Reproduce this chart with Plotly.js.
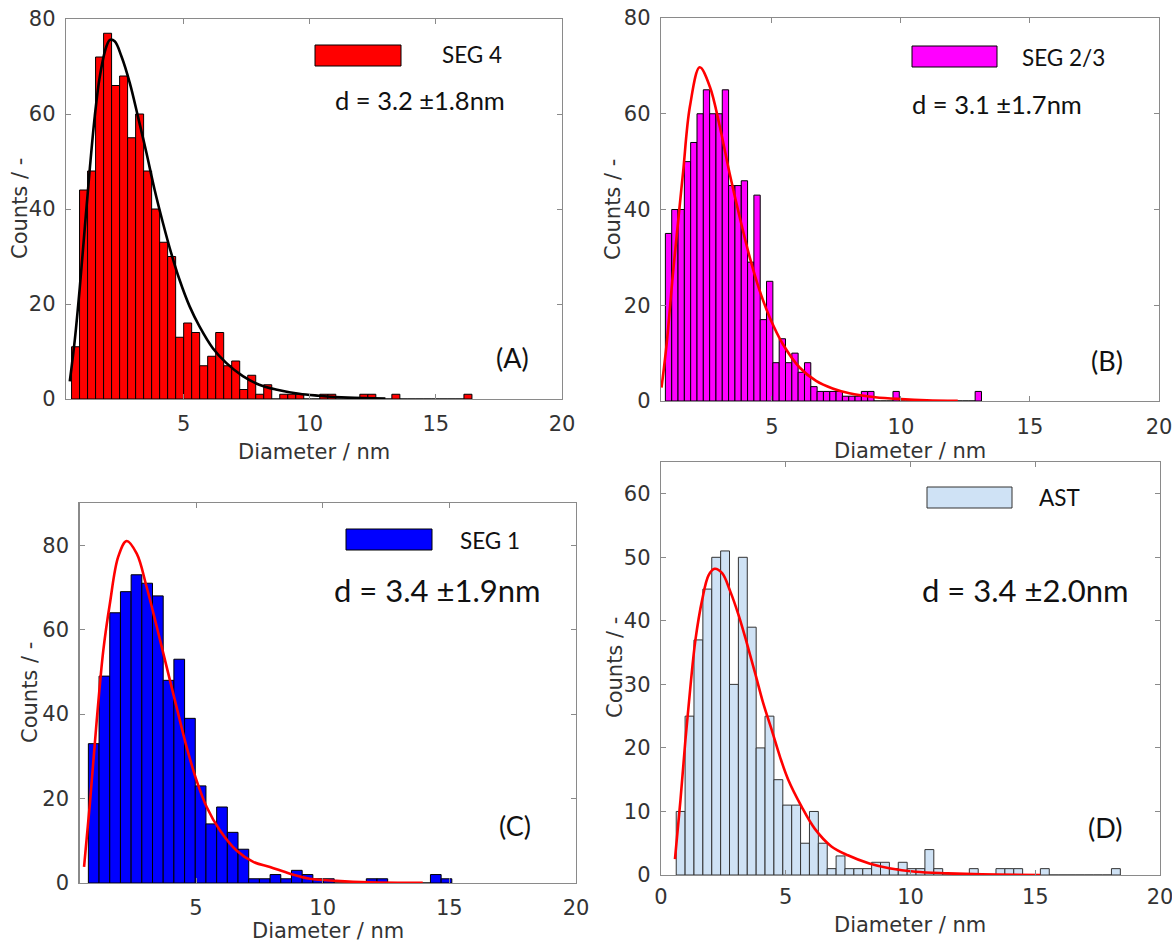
<!DOCTYPE html>
<html><head><meta charset="utf-8">
<script src="https://cdn.plot.ly/plotly-3.0.1.min.js"></script>
<style>html,body{margin:0;padding:0;background:#fff}</style>
</head><body><div id="chart" style="width:1172px;height:945px"></div>
<script>
// ---- Panel A (SEG 4) ----
const binStartA = 0.56, binWidthA = 0.3174;
const countsA = [11,44,48,72,77,66,68,55,60,48,40,33,30,13,16,14,7,9,14,7,8,2,5,1,3,0,1,1,1,0,0,1,1,0,0,0,1,1,0,0,1,0,0,0,0,0,0,0,0,1];
const fitA_x = [0.49,0.69,0.89,1.09,1.28,1.48,1.68,1.94,2.08,2.27,2.54,2.87,3.19,3.53,3.85,4.18,4.51,4.84,5.24,5.63,6.16,6.69,7.35,8.0,8.66,9.58,10.37,11.5,13.0];
const fitA_y = [3.7,12.5,23.7,36.4,48.3,59.5,67.9,74.2,75.6,75.3,72.1,66.5,59.5,51.8,44.1,37.1,30.7,25.1,19.5,15.3,10.7,7.6,4.8,3.0,2.0,1.1,0.7,0.3,0.1];

// ---- Panel B (SEG 2/3) ----
const binStartB = 0.87, binWidthB = 0.245;
const countsB = [35,40,40,50,54,60,65,60,60,65,45,45,46,29,43,17,25,8,13,8,10,6,8,3,2,2,2,2,1,1,1,2,2,0,0,0,2,0,0,0,0,0,0,0,0,0,0,0,0,2];
const fitB_x = [0.72,0.92,1.17,1.41,1.56,1.82,2.2,2.59,2.98,3.36,3.75,4.14,4.52,4.91,5.42,6.07,6.71,7.35,8.0,9.0,10.0,11.0,12.2];
const fitB_y = [2.8,12,27,40,48,61.5,69.7,65.7,57.3,47.5,38.4,30.0,23.1,17.5,11.9,7.0,4.2,2.6,1.6,0.8,0.4,0.15,0.05];

// ---- Panel C (SEG 1) ----
const binStartC = 0.75, binWidthC = 0.422;
const countsC = [33,49,64,69,73,71,68,48,53,39,23,14,18,12,8,1,1,2,1,3,2,1,1,0,0,0,1,1,0,0,0,0,2,1];
const fitC_x = [0.58,0.81,1.08,1.34,1.6,1.93,2.26,2.66,3.05,3.45,3.84,4.23,4.63,5.02,5.42,5.94,6.6,7.26,7.92,8.71,9.5,10.55,11.86,13.95];
const fitC_y = [3.8,18.8,38.5,55.1,66.2,77.3,81,78,70.1,60.7,51.2,41.7,32.2,24.3,18,12.5,7.7,5.0,3.8,2.2,1.0,0.5,0.15,0.02];

// ---- Panel D (AST) ----
const binStartD = 0.61, binWidthD = 0.356;
const countsD = [10,25,37,45,50,51,30,50,39,20,25,15,11,11,5,10,5,1,3,1,1,1,2,2,1,2,1,1,4,1,0,0,0,1,0,0,1,1,1,0,0,1,0,0,0,0,0,0,0,1];
const fitD_x = [0.56,0.78,0.98,1.18,1.38,1.65,1.91,2.15,2.45,2.78,3.11,3.44,3.77,4.10,4.44,4.77,5.1,5.63,6.16,6.83,7.49,8.35,9.15,10.2,11.5,12.86,15.2];
const fitD_y = [2.5,11.8,21.3,29.7,37,43.3,47.2,48.2,47.5,44.6,40.9,36.5,31.8,27,22.8,18.6,15,10.8,7.3,4.5,3.1,1.8,1.05,0.5,0.26,0.1,0.0];

const xTicksABC = [5,10,15,20];
const xTicksD = [0,5,10,15,20];
const yTicks80 = [0,20,40,60,80];
const yTicks60 = [0,10,20,30,40,50,60];

const W = 1172, H = 945;
const px = v => v / W;
const py = v => 1 - v / H;

function centers(start, width, n) {
  const out = [];
  for (let i = 0; i < n; i++) out.push(start + width * (i + 0.5));
  return out;
}

function barTrace(counts, start, width, fill, edge, xa, ya) {
  return {type:'bar', x: centers(start, width, counts.length), y: counts, width: width,
    marker:{color:fill, line:{color:edge, width:1}}, xaxis:xa, yaxis:ya, hoverinfo:'x+y', showlegend:false};
}
function fitTrace(xs, ys, color, xa, ya) {
  return {type:'scatter', mode:'lines', x:xs, y:ys, line:{color:color, width:2.6, shape:'spline', smoothing:1.0},
    xaxis:xa, yaxis:ya, showlegend:false, hoverinfo:'skip'};
}

const traces = [
  barTrace(countsA, binStartA, binWidthA, '#ff0000', '#000000', 'x', 'y'),
  fitTrace(fitA_x, fitA_y, '#000000', 'x', 'y'),
  barTrace(countsB, binStartB, binWidthB, '#ff00ff', '#000000', 'x2', 'y2'),
  fitTrace(fitB_x, fitB_y, '#ff0000', 'x2', 'y2'),
  barTrace(countsC, binStartC, binWidthC, '#0000ff', '#000000', 'x3', 'y3'),
  fitTrace(fitC_x, fitC_y, '#ff0000', 'x3', 'y3'),
  barTrace(countsD, binStartD, binWidthD, '#cfe2f5', '#333333', 'x4', 'y4'),
  fitTrace(fitD_x, fitD_y, '#ff0000', 'x4', 'y4'),
];

const tickFont = {family:'"DejaVu Sans", sans-serif', size:21, color:'#333333'};
function axis(extra) {
  return Object.assign({showline:true, linecolor:'#8a8a8a', linewidth:1.2, mirror:'ticks', ticks:'inside',
    ticklen:5, tickcolor:'#8a8a8a', tickwidth:1, showgrid:false, zeroline:false, tickfont:tickFont,
    fixedrange:true, ticklabelstandoff:5, ticklabeloverflow:'allow'}, extra);
}

const layout = {
  width:W, height:H, margin:{l:0,r:0,t:0,b:0}, paper_bgcolor:'#ffffff', plot_bgcolor:'#ffffff',
  showlegend:false, bargap:0,
  xaxis: axis({domain:[px(66), px(562)], range:[0.34,20], tickvals:xTicksABC, anchor:'y', ticklabelstandoff:6}),
  yaxis: axis({domain:[py(399), py(19)], range:[0,80], tickvals:yTicks80, anchor:'x'}),
  xaxis2: axis({domain:[px(661), px(1159)], range:[0.7,20], tickvals:xTicksABC, anchor:'y2', ticklabelstandoff:7}),
  yaxis2: axis({domain:[py(401), py(18)], range:[0,80], tickvals:yTicks80, anchor:'x2'}),
  xaxis3: axis({domain:[px(79.5), px(576)], range:[0.4,20], tickvals:xTicksABC, anchor:'y3', ticklabelstandoff:6}),
  yaxis3: axis({domain:[py(883), py(503)], range:[0,90], tickvals:yTicks80, anchor:'x3'}),
  xaxis4: axis({domain:[px(661), px(1160)], range:[0,20], tickvals:xTicksD, anchor:'y4', ticklabelstandoff:3}),
  yaxis4: axis({domain:[py(875), py(462)], range:[0,65], tickvals:yTicks60, anchor:'x4'}),
  shapes: [
    {type:'rect', xref:'paper', yref:'paper', x0:px(315), x1:px(401), y0:py(66), y1:py(45), fillcolor:'#ff0000', line:{color:'#000', width:1}},
    {type:'rect', xref:'paper', yref:'paper', x0:px(912), x1:px(997), y0:py(67), y1:py(46), fillcolor:'#ff00ff', line:{color:'#000', width:1}},
    {type:'rect', xref:'paper', yref:'paper', x0:px(346), x1:px(432), y0:py(550), y1:py(529), fillcolor:'#0000ff', line:{color:'#000', width:1}},
    {type:'rect', xref:'paper', yref:'paper', x0:px(927), x1:px(1012), y0:py(508), y1:py(487), fillcolor:'#cfe2f5', line:{color:'#333', width:1}},
  ],
  annotations: []
};

const calFont = (s) => ({family:'Lato, "Open Sans", sans-serif', size:s, color:'#111111'});
const axFont = {family:'"DejaVu Sans", sans-serif', size:21, color:'#333333'};
function txt(t, x, y, font, xanchor, angle) {
  layout.annotations.push({text:t, xref:'paper', yref:'paper', x:px(x), y:py(y), xanchor:xanchor||'center',
    yanchor:'middle', showarrow:false, font:font, textangle:angle||0});
}
txt('SEG 4', 440, 55, calFont(22.5), 'left');
txt('d = 3.2 \u00b11.8nm', 333, 100, calFont(25.5), 'left');
txt('SEG 2/3', 1020, 57, calFont(22.5), 'left');
txt('d = 3.1 \u00b11.7nm', 910, 104, calFont(25.5), 'left');
txt('SEG 1', 458, 540, calFont(22.5), 'left');
txt('d = 3.4 \u00b11.9nm', 332, 590, calFont(31), 'left');
txt('AST', 1037, 497, calFont(22.5), 'left');
txt('d = 3.4 \u00b12.0nm', 920, 590, calFont(31), 'left');
txt('(A)', 512, 357, calFont(27));
txt('(B)', 1107, 360, calFont(27));
txt('(C)', 515, 825, calFont(27));
txt('(D)', 1105, 827, calFont(27));
txt('Diameter / nm', 314, 452, axFont);
txt('Diameter / nm', 910, 451, axFont);
txt('Diameter / nm', 328, 931, axFont);
txt('Diameter / nm', 910, 925, axFont);
txt('Counts / -', 20, 209, axFont, 'center', -90);
txt('Counts / -', 613, 210, axFont, 'center', -90);
txt('Counts / -', 30, 693, axFont, 'center', -90);
txt('Counts / -', 615, 668, axFont, 'center', -90);

Plotly.newPlot('chart', traces, layout, {displayModeBar:false, staticPlot:true});
</script>
</body></html>
